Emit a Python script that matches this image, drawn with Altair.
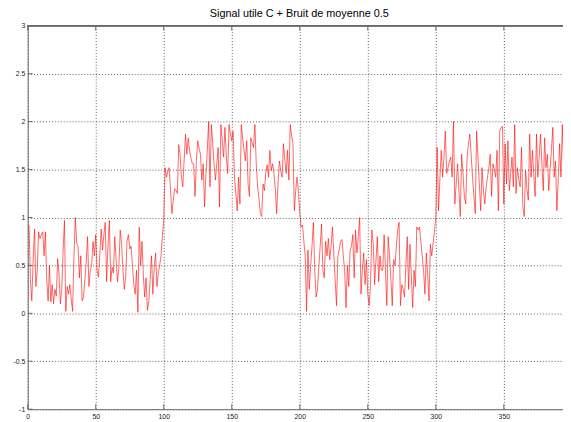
import altair as alt
import pandas as pd

title_text = "Signal utile C + Bruit de moyenne 0.5"

segment_1 = [
    0.92, 0.35, 0.13, 0.55, 0.88, 0.28, 0.45, 0.85, 0.78, 0.82,
    0.85, 0.60, 0.85, 0.35, 0.13, 0.50, 0.12, 0.30, 0.10, 0.25,
    0.18, 0.57, 0.40, 0.10, 0.25, 0.65, 0.97, 0.02, 0.28, 0.20,
    0.30, 0.15, 0.02, 0.60, 1.00, 0.73, 0.70, 0.37, 0.60, 0.13,
    0.17, 0.35, 0.53, 0.80, 0.28, 0.45, 0.50, 0.75, 0.60, 0.82,
    0.45, 0.38, 0.62, 0.88, 0.66, 0.82, 0.95, 0.33, 0.70, 0.97,
    0.33, 0.48, 0.42, 0.80, 0.55, 0.33, 0.48, 0.87, 0.72, 0.45,
    0.25, 0.37, 0.75, 0.82, 0.67, 0.70, 0.50, 0.30, 0.20, 0.45,
    0.01, 0.90, 0.50, 0.75, 0.40, 0.17, 0.37, 0.03, 0.12, 0.35,
    0.60, 0.20, 0.48, 0.63, 0.28, 0.42, 0.50, 0.60, 0.80, 0.97,
]
segment_2 = [
    1.52, 1.42, 1.48, 1.52, 1.28, 1.04, 1.18, 1.30, 1.28, 1.25,
    1.76, 1.66, 1.42, 1.32, 1.60, 1.87, 1.66, 1.83, 1.70, 1.62,
    1.56, 1.56, 1.22, 1.59, 1.80, 1.72, 1.66, 1.39, 1.56, 1.11,
    1.45, 1.70, 2.00, 1.32, 1.97, 1.77, 1.55, 1.39, 1.56, 1.73,
    1.11, 1.97, 1.80, 1.63, 1.94, 1.63, 1.46, 1.97, 1.88, 1.80,
    1.90, 1.42, 1.25, 1.07, 1.42, 1.14, 1.97, 1.83, 1.70, 1.59,
    1.80, 1.35, 1.22, 1.83, 1.78, 1.73, 1.97, 1.56, 1.32, 1.20,
    1.04, 1.01, 1.35, 1.28, 1.46, 1.55, 1.42, 1.70, 1.49, 1.56,
    1.46, 1.30, 1.04, 1.35, 1.59, 1.49, 1.42, 1.77, 1.60, 1.46,
    1.70, 1.39, 1.97, 1.85, 1.77, 1.07, 1.28, 1.42, 1.28, 1.05,
]
segment_3 = [
    0.90, 0.92, 0.75, 0.60, 0.02, 0.66, 0.25, 0.50, 0.70, 0.95,
    0.45, 0.17, 0.25, 0.48, 0.70, 0.93, 0.45, 0.37, 0.75, 0.60,
    0.78, 0.56, 0.70, 0.90, 0.63, 0.35, 0.08, 0.60, 0.66, 0.75,
    0.77, 0.60, 0.45, 0.06, 0.50, 0.28, 0.66, 0.70, 0.82, 0.37,
    0.87, 0.63, 0.80, 1.00, 0.20, 0.45, 0.63, 0.30, 0.56, 0.20,
    0.08, 0.30, 0.87, 0.73, 0.30, 0.55, 0.80, 0.33, 0.60, 0.45,
    0.45, 0.82, 0.45, 0.08, 0.80, 0.60, 0.35, 0.08, 0.56, 0.50,
    0.70, 0.87, 0.95, 0.08, 0.30, 0.25, 0.17, 0.50, 0.80, 0.25,
    0.72, 0.40, 0.06, 0.45, 0.28, 0.90, 0.87, 0.90, 0.75, 0.60,
    0.45, 0.20, 0.63, 0.40, 0.13, 0.72, 0.60, 0.73, 0.85, 1.00,
]
segment_4 = [
    1.73, 1.07, 1.40, 1.70, 1.42, 1.63, 1.90, 1.46, 1.52, 1.59,
    1.63, 1.42, 2.00, 1.14, 1.35, 1.56, 1.28, 1.01, 1.66, 1.45,
    1.22, 1.14, 1.63, 1.77, 1.87, 1.65, 1.42, 1.22, 1.04, 1.90,
    1.63, 1.35, 1.07, 1.52, 1.28, 1.14, 1.32, 1.42, 1.52, 1.66,
    1.22, 1.56, 1.50, 1.42, 1.70, 1.07, 1.90, 1.94, 1.95, 1.14,
    1.77, 1.35, 1.80, 1.28, 1.45, 1.63, 1.32, 1.97, 1.25, 1.52,
    1.40, 1.32, 1.73, 1.11, 1.01, 1.49, 1.30, 1.18, 1.87, 1.42,
    1.70, 1.45, 1.22, 1.87, 1.42, 1.63, 1.87, 1.55, 1.28, 1.83,
    1.52, 1.66, 1.28, 1.50, 1.70, 1.94, 1.42, 1.59, 1.07, 1.40,
    1.77, 1.42, 1.97, 1.50, 1.02, 1.85, 1.30, 1.60, 1.20, 1.75,
]

values = segment_1 + segment_2 + segment_3 + segment_4
sample_index = list(range(1, len(values) + 1))

x_ticks = [0, 50, 100, 150, 200, 250, 300, 350]
y_ticks = [-1, -0.5, 0, 0.5, 1, 1.5, 2, 2.5, 3]
x_domain = [0, 393.5]
y_domain = [-1, 3]

W, H = 543, 389
FONT = "Liberation Sans"
AXIS_COLOR = "#6a6a6a"
TICK_LEN = 5

df = pd.DataFrame({"n": sample_index, "v": values})
xt = pd.DataFrame({"n": x_ticks})
yt = pd.DataFrame({"v": y_ticks})

xscale = alt.Scale(domain=x_domain, nice=False, zero=False)
yscale = alt.Scale(domain=y_domain, nice=False, zero=False)

x_axis = alt.Axis(
    values=x_ticks, title=None, grid=True, gridColor="#000000", gridDash=[1, 2],
    gridWidth=0.8, gridOpacity=0.8, tickSize=0, labelFont=FONT, labelFontSize=7,
    labelColor="#222222", labelPadding=3, labelFlush=False, domainColor=AXIS_COLOR,
    domainWidth=1,
)
y_axis = alt.Axis(
    values=y_ticks, title=None, grid=True, gridColor="#000000", gridDash=[1, 2],
    gridWidth=0.8, gridOpacity=0.8, tickSize=0, labelFont=FONT, labelFontSize=7,
    labelColor="#222222", labelPadding=3, labelExpr="'' + datum.value",
    domainColor=AXIS_COLOR, domainWidth=1,
)

line = alt.Chart(df).mark_line(color="#ff0000", strokeWidth=0.6, clip=True).encode(
    x=alt.X("n:Q", scale=xscale, axis=x_axis),
    y=alt.Y("v:Q", scale=yscale, axis=y_axis),
)

bottom_ticks = alt.Chart(xt).mark_rule(color=AXIS_COLOR, strokeWidth=1).encode(
    x=alt.X("n:Q", scale=xscale, title=None),
    y=alt.value(H),
    y2=alt.value(H - TICK_LEN),
)
top_ticks = alt.Chart(xt).mark_rule(color=AXIS_COLOR, strokeWidth=1).encode(
    x=alt.X("n:Q", scale=xscale, title=None),
    y=alt.value(0),
    y2=alt.value(TICK_LEN),
)
left_ticks = alt.Chart(yt).mark_rule(color=AXIS_COLOR, strokeWidth=1).encode(
    y=alt.Y("v:Q", scale=yscale, title=None),
    x=alt.value(0),
    x2=alt.value(TICK_LEN),
)
top_border = alt.Chart(xt).mark_rule(color=AXIS_COLOR, strokeWidth=1).encode(
    x=alt.value(0),
    x2=alt.value(W),
    y=alt.value(0),
)

chart = alt.layer(line, bottom_ticks, top_ticks, left_ticks, top_border).properties(
    width=W,
    height=H,
    title=alt.TitleParams(
        title_text, font=FONT, fontSize=11, fontWeight="normal", color="#000000",
        anchor="middle", offset=3, dx=4,
    ),
    autosize=alt.AutoSizeParams(type="none"),
    padding={"left": 20, "top": 15, "right": 0, "bottom": 10},
    background="#ffffff",
).configure_view(stroke=None)

chart.save("out.html", embed_options={"renderer": "svg", "actions": False})
